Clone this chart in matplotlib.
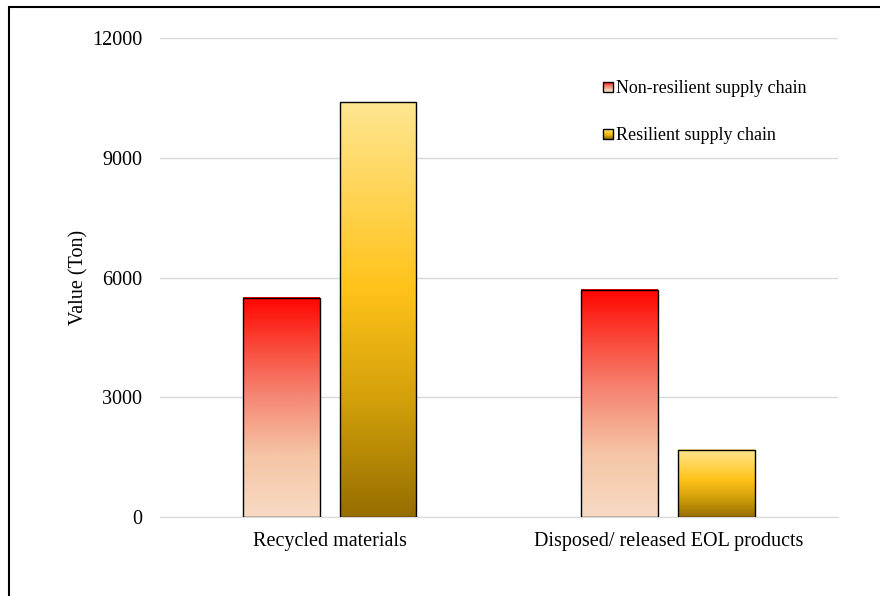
import numpy as np
import matplotlib
matplotlib.use('Agg')
import matplotlib.pyplot as plt
from matplotlib.colors import LinearSegmentedColormap
from matplotlib.patches import Rectangle
from matplotlib.legend_handler import HandlerBase

plt.rcParams['font.family'] = 'Liberation Serif'

categories = ['Recycled materials', 'Disposed/ released EOL products']
non_resilient = [5500, 5690]
resilient = [10390, 1680]
series_names = ['Non-resilient supply chain', 'Resilient supply chain']
y_ticks = [0, 3000, 6000, 9000, 12000]

# gradients run bottom -> top of each bar
red_grad = LinearSegmentedColormap.from_list('red_grad', [
    (0.0, (248/255, 218/255, 196/255)),
    (0.28, (245/255, 197/255, 165/255)),
    (0.55, (245/255, 135/255, 115/255)),
    (0.77, (250/255, 75/255, 60/255)),
    (1.0, (255/255, 5/255, 0/255)),
])
gold_grad = LinearSegmentedColormap.from_list('gold_grad', [
    (0.0, (150/255, 110/255, 0/255)),
    (0.28, (210/255, 160/255, 10/255)),
    (0.55, (255/255, 195/255, 25/255)),
    (1.0, (255/255, 230/255, 145/255)),
])


class GradientHandler(HandlerBase):
    def __init__(self, cmap):
        super().__init__()
        self.cmap = cmap

    def create_artists(self, legend, orig_handle, xdescent, ydescent,
                       width, height, fontsize, trans):
        s = height * 0.78
        x0 = -xdescent + width - s - 1
        y0 = -ydescent + (height - s) / 2
        n = 12
        arts = []
        for i in range(n):
            arts.append(Rectangle((x0, y0 + s * i / n), s, s / n + 0.05,
                                  facecolor=self.cmap((i + 0.5) / n),
                                  edgecolor='none', transform=trans))
        arts.append(Rectangle((x0, y0), s, s, facecolor='none',
                              edgecolor='black', linewidth=1.0, transform=trans))
        return arts


fig = plt.figure(figsize=(8.8, 5.96), dpi=100)
ax = fig.add_axes([0.182, 0.1326, 0.770, 0.8034])

x = np.arange(len(categories))
w = 0.227
off = 0.143
bars1 = ax.bar(x - off, non_resilient, w, facecolor='none', edgecolor='black', linewidth=1.0, zorder=3)
bars2 = ax.bar(x + off, resilient, w, facecolor='none', edgecolor='black', linewidth=1.0, zorder=3)

grad = np.linspace(0, 1, 256).reshape(-1, 1)
for bars, cmap in [(bars1, red_grad), (bars2, gold_grad)]:
    for b in bars:
        bx, by = b.get_x(), b.get_y()
        bw, bh = b.get_width(), b.get_height()
        ax.imshow(grad, cmap=cmap, origin='lower', aspect='auto',
                  extent=(bx, bx + bw, by, by + bh), zorder=2, interpolation='bilinear')

ax.set_xlim(-0.5, 1.5)
ax.set_ylim(0, 12000)
ax.set_yticks(y_ticks)
ax.set_yticklabels([str(t) for t in y_ticks])
ax.set_xticks(x)
ax.set_xticklabels(categories)
ax.tick_params(axis='both', length=0, labelsize=14.5)
ax.tick_params(axis='y', pad=13)
ax.tick_params(axis='x', pad=11)
ax.grid(axis='y', color='#d9d9d9', linewidth=1.0, zorder=0)
ax.set_axisbelow(True)
for sp in ['left', 'right', 'top']:
    ax.spines[sp].set_visible(False)
ax.spines['bottom'].set_color('#d9d9d9')
ax.set_ylabel('Value (Ton)', fontsize=14.5, labelpad=2.5)

h1 = Rectangle((0, 0), 1, 1)
h2 = Rectangle((0, 0), 1, 1)
ax.legend([h1, h2], series_names, loc='upper left', bbox_to_anchor=(0.625, 0.946),
          frameon=False, fontsize=13, labelspacing=1.66, handlelength=0.8,
          handletextpad=0.1, handler_map={h1: GradientHandler(red_grad), h2: GradientHandler(gold_grad)})

# outer frame, open to the right and bottom
fig.patches.append(Rectangle((8.5 / 880, -0.5), 1.5, 0.5 + 1 - 6.5 / 596,
                             transform=fig.transFigure, facecolor='none',
                             edgecolor='black', linewidth=1.5))

fig.savefig('out.png', dpi=100)
